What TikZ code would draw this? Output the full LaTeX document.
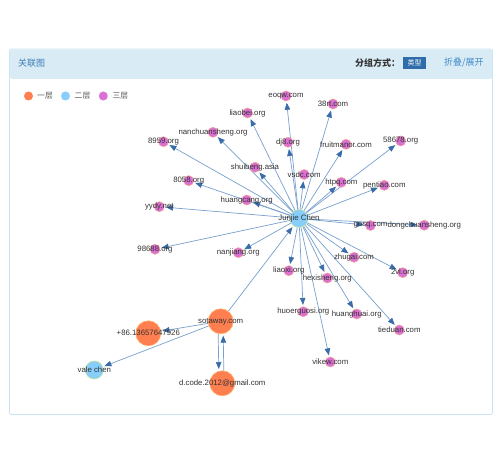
\documentclass[tikz,border=0pt]{standalone}
\usepackage{fontspec}
\setmainfont{Liberation Sans}
\newfontfamily\cjk{Noto Sans CJK SC}
\usetikzlibrary{arrows.meta}
\usetikzlibrary{backgrounds}

\definecolor{lvlOrange}{RGB}{255,127,80}
\definecolor{lvlBlue}{RGB}{135,206,250}
\definecolor{lvlPink}{RGB}{218,112,214}
\definecolor{linkBlue}{RGB}{120,160,205}
\definecolor{tipBlue}{RGB}{58,108,168}
\definecolor{panelLine}{RGB}{200,230,242}
\definecolor{headFill}{RGB}{217,236,246}
\definecolor{headText}{RGB}{60,125,180}
\definecolor{btnBlue}{RGB}{46,109,170}
\definecolor{textGray}{RGB}{51,51,51}

\begin{document}
\begin{tikzpicture}[x=1pt, y=-1pt,
    lvlone/.style={circle, inner sep=0pt, minimum size=25pt, fill=lvlOrange, draw={rgb,255:red,255;green,175;blue,110}, line width=0.6pt},
    lvltwo/.style={circle, inner sep=0pt, minimum size=18pt, fill=lvlBlue, draw={rgb,255:red,200;green,225;blue,160}, line width=0.6pt},
    lvlthree/.style={circle, inner sep=0pt, minimum size=10pt, fill=lvlPink, draw={rgb,255:red,245;green,160;blue,150}, line width=0.6pt},
    ndText/.style={font=\fontsize{7.8}{9}\selectfont, text=textGray, inner sep=0pt},
    link/.style={draw=linkBlue, line width=0.7pt, -{Triangle[length=7pt,width=5.5pt,color=tipBlue]}, shorten >=1.5pt},
    legendDot/.style={circle, inner sep=0pt, minimum size=9pt},
    legendText/.style={anchor=west, inner sep=0pt, font=\cjk\fontsize{7.8}{9}\selectfont, text={rgb,255:red,85;green,85;blue,85}}
]
    \useasboundingbox (0,0) rectangle (500,465);

    % header
    \node[anchor=west, inner sep=0pt, font=\cjk\fontsize{9}{10}\selectfont, text=headText] (ndTitle) at (18,63) {关联图};
    \node[anchor=west, inner sep=0pt, font=\cjk\bfseries\fontsize{9}{10}\selectfont, text=textGray] (ndGroup) at (355,63) {分组方式：};
    \node[inner sep=0pt, minimum width=22.4pt, minimum height=12.6pt, fill=btnBlue, text=white, font=\cjk\fontsize{7}{8}\selectfont] (ndTypeBtn) at (414.5,63) {类型};
    \node[anchor=west, inner sep=0pt, font=\cjk\fontsize{9}{10}\selectfont, text={rgb,255:red,62;green,138;blue,200}] (ndFold) at (444,63) {折叠/展开};

    % legend
    \node[legendDot, fill=lvlOrange] (ndLegOne) at (28.5,96) {};
    \node[legendText] (ndLegOneText) at (37,96) {一层};
    \node[legendDot, fill=lvlBlue] (ndLegTwo) at (65.5,96) {};
    \node[legendText] (ndLegTwoText) at (74.5,96) {二层};
    \node[legendDot, fill=lvlPink] (ndLegThree) at (103.3,96) {};
    \node[legendText] (ndLegThreeText) at (112.3,96) {三层};

    % nodes
    \node[lvltwo, label={[ndText]center:Junjie Chen}] (ndJunjie) at (299,218.5) {};
    \node[lvlthree, label={[ndText]center:eoqw.com}] (ndEoqw) at (286,96) {};
    \node[lvlthree, label={[ndText]center:38rt.com}] (ndRt) at (333,104) {};
    \node[lvlthree, label={[ndText]center:liaobei.org}] (ndLiaobei) at (247.5,113) {};
    \node[lvlthree, label={[ndText]center:nanchuansheng.org}] (ndNanchuan) at (213,132.3) {};
    \node[lvlthree, label={[ndText]center:8959.org}] (ndEightNine) at (163.5,141.7) {};
    \node[lvlthree, label={[ndText]center:dj8.org}] (ndDj) at (288,142.3) {};
    \node[lvlthree, label={[ndText]center:shuibeng.asia}] (ndShuibeng) at (255,167.3) {};
    \node[lvlthree, label={[ndText]center:8058.org}] (ndEightFive) at (188.7,180.7) {};
    \node[lvlthree, label={[ndText]center:huangcang.org}] (ndHuangcang) at (246.7,200) {};
    \node[lvlthree, label={[ndText]center:yydy.net}] (ndYydy) at (159.3,206.7) {};
    \node[lvlthree, label={[ndText]center:vsdc.com}] (ndVsdc) at (304.2,174.5) {};
    \node[lvlthree, label={[ndText]center:fruitmanor.com}] (ndFruit) at (346,144.3) {};
    \node[lvlthree, label={[ndText]center:58678.org}] (ndFiveEight) at (400.7,141) {};
    \node[lvlthree, label={[ndText]center:htpq.com}] (ndHtpq) at (341.3,182.3) {};
    \node[lvlthree, label={[ndText]center:pentiao.com}] (ndPentiao) at (384.3,185.3) {};
    \node[lvlthree, label={[ndText]center:gosq.com}] (ndGosq) at (370.5,225.5) {};
    \node[lvlthree, label={[ndText]center:dongchuansheng.org}] (ndDongchuan) at (424.2,225.2) {};
    \node[lvlthree, label={[ndText]center:zhugai.com}] (ndZhugai) at (354,257.3) {};
    \node[lvlthree, label={[ndText]center:2vl.org}] (ndTwoVl) at (402.7,272.7) {};
    \node[lvlthree, label={[ndText]center:liaoxi.org}] (ndLiaoxi) at (288.8,270.7) {};
    \node[lvlthree, label={[ndText]center:hexisheng.org}] (ndHexi) at (327.3,278) {};
    \node[lvlthree, label={[ndText]center:huoerguosi.org}] (ndHuoer) at (303.3,311.7) {};
    \node[lvlthree, label={[ndText]center:huanghuai.org}] (ndHuanghuai) at (356.7,314) {};
    \node[lvlthree, label={[ndText]center:tieduan.com}] (ndTieduan) at (399.3,330) {};
    \node[lvlthree, label={[ndText]center:vikew.com}] (ndVikew) at (330.3,362) {};
    \node[lvlthree, label={[ndText]center:98688.org}] (ndNineEight) at (155,249.3) {};
    \node[lvlthree, label={[ndText]center:nanjiang.org}] (ndNanjiang) at (238.3,252.7) {};
    \node[lvlone, label={[ndText]center:sotaway.com}] (ndSotaway) at (220.7,321.3) {};
    \node[lvlone, label={[ndText]center:+86.13657647926}] (ndPhone) at (148.3,333.3) {};
    \node[lvltwo, label={[ndText]center:vale chen}] (ndVale) at (94.3,370) {};
    \node[lvlone, label={[ndText]center:d.code.2012@gmail.com}] (ndDcode) at (222.3,383.3) {};

    \begin{scope}[on background layer]
        \fill[white] (0,0) rectangle (500,465);
        \fill[white, draw=panelLine, line width=0.8pt, rounded corners=2pt] (9.5,49) rectangle (492.5,414.5);
        \fill[headFill, rounded corners=1.5pt] (10,49.5) rectangle (492,79);

        % links
        \foreach \t in {ndEoqw, ndRt, ndLiaobei, ndNanchuan, ndEightNine, ndDj, ndShuibeng, ndEightFive, ndHuangcang, ndYydy, ndVsdc, ndFruit, ndFiveEight, ndHtpq, ndPentiao, ndGosq, ndDongchuan, ndZhugai, ndTwoVl, ndLiaoxi, ndHexi, ndHuoer, ndHuanghuai, ndTieduan, ndVikew, ndNineEight, ndNanjiang}
            \draw[link] (ndJunjie) -- (\t);
        \draw[link] (ndSotaway) -- (ndJunjie);
        \draw[link] (ndSotaway) -- (ndPhone);
        \draw[link] (ndSotaway) -- (ndVale);
        \draw[link] ([xshift=-2.5pt]ndSotaway.south) -- ([xshift=-3.5pt]ndDcode.north);
        \draw[link] ([xshift=1.5pt]ndDcode.north) -- ([xshift=2.5pt]ndSotaway.south);
    \end{scope}
\end{tikzpicture}
\end{document}
